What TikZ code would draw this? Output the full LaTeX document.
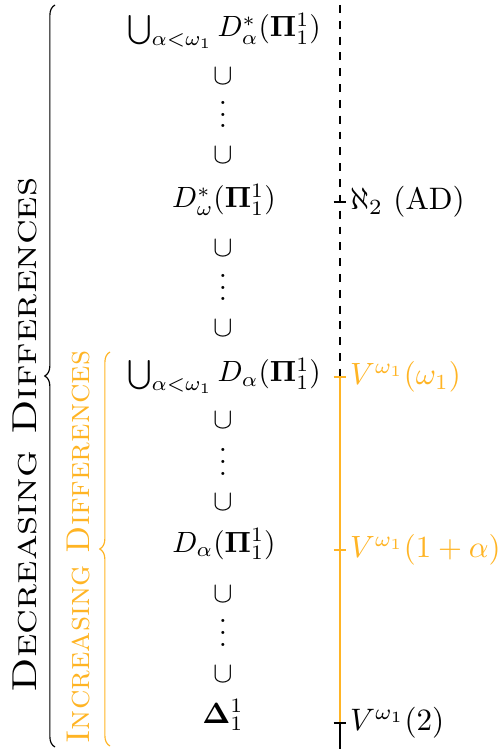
\documentclass[tikz,border=0pt]{standalone}
\usepackage{amsmath,amssymb}
\usepackage{graphicx}
\usetikzlibrary{decorations.pathreplacing}
\definecolor{amber}{RGB}{255,180,36}
\begin{document}
\begin{tikzpicture}[x=0.3413pt,y=-0.3413pt,
  item/.style={anchor=base,inner sep=0pt},
  cupnode/.style={anchor=center,inner sep=0pt},
  lab/.style={anchor=west,inner sep=1pt},
  tickline/.style={line width=0.4pt},
  bracedec/.style={decorate,decoration={brace,amplitude=3.5pt}}]
\useasboundingbox (0,0) rectangle (499,749);
% main column
\node[item] (a1) at (224,37) {$\bigcup_{\alpha<\omega_1} D^*_\alpha(\mathbf{\Pi}^1_1)$};
\node[cupnode] (c1) at (223,76) {$\cup$};
\node[item] (d1) at (223,128) {$\vdots$};
\node[cupnode] (c2) at (223,155) {$\cup$};
\node[item] (a2) at (224,208) {$D^*_\omega(\mathbf{\Pi}^1_1)$};
\node[cupnode] (c3) at (223,248) {$\cup$};
\node[item] (d2) at (223,301) {$\vdots$};
\node[cupnode] (c4) at (223,328) {$\cup$};
\node[item] (a3) at (224,382) {$\bigcup_{\alpha<\omega_1} D_\alpha(\mathbf{\Pi}^1_1)$};
\node[cupnode] (c5) at (223,420) {$\cup$};
\node[item] (d3) at (223,475) {$\vdots$};
\node[cupnode] (c6) at (223,502) {$\cup$};
\node[item] (a4) at (224,552) {$D_\alpha(\mathbf{\Pi}^1_1)$};
\node[cupnode] (c7) at (223,594) {$\cup$};
\node[item] (d4) at (223,646) {$\vdots$};
\node[cupnode] (c8) at (223,674) {$\cup$};
\node[item] (a5) at (223,723) {$\mathbf{\Delta}^1_1$};
% scale line
\coordinate (ltop) at (340,5);
\coordinate (t1) at (340,202);
\coordinate (t2) at (340,377);
\coordinate (t3) at (340,550);
\coordinate (t4) at (340,723);
\coordinate (lbot) at (340,749);
\draw[dash pattern=on 2.7pt off 2.7pt] (ltop) -- (t2);
\draw[amber,line width=0.6pt] (t2) -- (t4);
\draw (t4) -- (lbot);
\draw[tickline] ([xshift=-2.2pt]t1) -- ([xshift=2.2pt]t1);
\draw[tickline,amber] ([xshift=-2.2pt]t2) -- ([xshift=2.2pt]t2);
\draw[tickline,amber] ([xshift=-2.2pt]t3) -- ([xshift=2.2pt]t3);
\draw[tickline] ([xshift=-2.2pt]t4) -- ([xshift=2.2pt]t4);
\node[lab,scale=1.06] (l1) at ([xshift=2.2pt]t1) {$\aleph_2$ (AD)};
\node[lab,scale=1.05,text=amber] (l2) at ([xshift=2.2pt]t2) {$V^{\omega_1}(\omega_1)$};
\node[lab,scale=1.05,text=amber] (l3) at ([xshift=2.2pt]t3) {$V^{\omega_1}(1+\alpha)$};
\node[lab,scale=1.06] (l4) at ([xshift=2.2pt]t4) {$V^{\omega_1}(2)$};
% braces
\coordinate (bb1) at (55,747);
\coordinate (bt1) at (55,5);
\draw[bracedec] (bb1) -- (bt1);
\node[rotate=90,inner sep=0pt] (tx1) at (25,435)
  {\fontsize{11.8}{14}\selectfont\scalebox{1.213}[1]{\textsc{Decreasing Differences}}};
\coordinate (bb2) at (110,746);
\coordinate (bt2) at (110,352);
\draw[bracedec,amber] (bb2) -- (bt2);
\node[rotate=90,inner sep=0pt,text=amber] (tx2) at (78,547)
  {\fontsize{11.25}{13.5}\selectfont\textsc{Increasing Differences}};
\end{tikzpicture}
\end{document}
